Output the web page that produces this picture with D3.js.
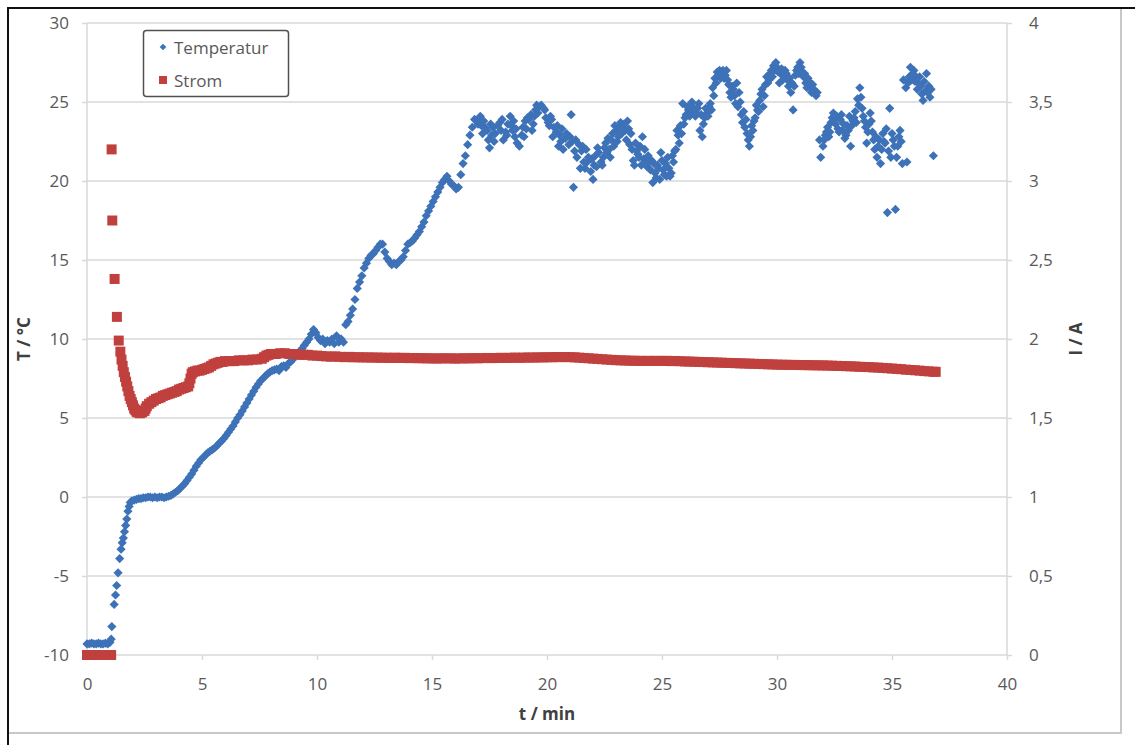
<!DOCTYPE html>
<html>
<head>
<meta charset="utf-8">
<script src="https://cdn.jsdelivr.net/npm/d3@7"></script>
<style>
  html, body { margin: 0; padding: 0; background: #fff; }
  svg { display: block; }
  text { font-family: "Open Sans", "Liberation Sans", sans-serif; }
</style>
</head>
<body>
<svg id="chart" width="1135" height="745"></svg>
<script>
// Tick values for the three axes
const timeTicks = [0, 5, 10, 15, 20, 25, 30, 35, 40];
const tempTicks = [-10, -5, 0, 5, 10, 15, 20, 25, 30];
const currentTicks = [0, 0.5, 1, 1.5, 2, 2.5, 3, 3.5, 4];

const seriesNames = ["Temperatur", "Strom"];

// Temperature readings: [t / min, T / °C]
const temperatureReadings = [
  [0.0,-9.3],[0.1,-9.3],[0.2,-9.25],[0.3,-9.3],[0.4,-9.3],[0.5,-9.25],[0.6,-9.3],[0.7,-9.3],[0.8,-9.25],[0.9,-9.3],[1.0,-9.2],[1.05,-9.0],
  [1.08,-8.2],[1.18,-6.8],[1.24,-6.2],[1.29,-5.6],[1.35,-4.8],[1.42,-3.9],[1.48,-3.3],[1.53,-2.9],[1.58,-2.6],[1.63,-2.2],[1.68,-1.8],[1.73,-1.4],[1.78,-0.9],[1.83,-0.6],[1.88,-0.35],
  [1.95,-0.25],[2.05,-0.2],[2.15,-0.15],[2.25,-0.1],[2.35,-0.1],[2.45,-0.05],[2.55,-0.05],[2.65,0.0],[2.75,0.0],[2.85,-0.05],[2.95,0.0],[3.05,-0.05],[3.15,0.0],[3.25,0.0],[3.35,-0.05],[3.45,0.0],[3.55,0.05],[3.65,0.1],[3.75,0.2],[3.85,0.3],[3.95,0.4],
  [4.05,0.55],[4.15,0.7],[4.25,0.85],[4.35,1.05],[4.45,1.25],[4.55,1.45],[4.65,1.7],[4.75,1.95],[4.85,2.15],[4.95,2.35],[5.05,2.5],[5.15,2.65],[5.25,2.8],[5.35,2.9],[5.45,3.0],[5.55,3.1],[5.65,3.25],[5.75,3.4],[5.85,3.55],[5.95,3.7],
  [6.05,3.9],[6.15,4.1],[6.25,4.3],[6.35,4.5],[6.45,4.75],[6.55,5.0],[6.65,5.2],[6.75,5.45],[6.85,5.7],[6.95,5.95],[7.05,6.2],[7.15,6.45],[7.25,6.7],[7.35,6.95],[7.45,7.15],[7.55,7.35],[7.65,7.5],[7.75,7.65],[7.85,7.8],[7.95,7.9],
  [8.05,8.0],[8.15,8.05],[8.25,8.1],[8.35,8.0],[8.45,8.25],[8.55,8.3],[8.65,8.2],[8.75,8.45],[8.85,8.55],[8.95,8.7],[9.05,8.9],[9.15,9.05],[9.25,9.2],[9.35,9.4],[9.45,9.6],[9.55,9.8],[9.65,10.0],[9.75,10.3],[9.85,10.6],[9.95,10.4],
  [10.05,10.1],[10.15,9.9],[10.25,10.0],[10.35,9.7],[10.45,9.9],[10.55,9.8],[10.65,10.0],[10.75,9.7],[10.85,10.2],[10.95,9.8],[11.05,10.0],[11.15,9.8],[11.25,10.9],[11.35,11.1],[11.45,11.5],[11.55,11.9],[11.65,12.5],[11.75,13.2],[11.85,13.6],[11.95,14.0],
  [12.05,14.5],[12.15,14.8],[12.25,15.1],[12.35,15.3],[12.45,15.4],[12.55,15.6],[12.65,15.8],[12.75,16.0],[12.85,16.0],[12.95,15.5],[13.05,15.1],[13.15,14.9],[13.25,14.7],[13.35,14.8],[13.45,14.7],[13.55,14.9],[13.65,15.0],[13.75,15.2],[13.85,15.6],[13.95,16.0],
  [14.05,16.1],[14.15,16.2],[14.25,16.4],[14.35,16.6],[14.45,16.8],[14.55,17.1],[14.65,17.4],[14.75,17.8],[14.85,18.1],[14.95,18.4],[15.05,18.7],[15.15,19.0],[15.25,19.3],[15.35,19.6],[15.45,19.9],[15.55,20.1],[15.65,20.3],[15.75,20.0],[15.85,19.8],[15.95,19.7],
  [16.05,19.5],[16.15,19.6],[16.25,20.4],[16.35,21.1],[16.45,21.6],[16.55,22.3],[16.65,22.9],[16.75,23.4],[16.85,23.9],
  [17.0,23.6],[17.05,23.9],[17.1,24.1],[17.15,23.5],[17.2,23.0],[17.25,23.8],[17.3,23.4],[17.4,23.2],[17.45,22.6],[17.5,22.1],[17.55,23.6],[17.6,22.9],[17.65,23.4],[17.7,22.5],[17.75,23.0],[17.85,23.5],[17.95,23.7],
  [18.0,23.2],[18.05,23.9],[18.1,22.6],[18.2,23.1],[18.25,22.9],[18.3,23.6],[18.4,24.1],[18.45,23.5],[18.5,23.2],[18.55,23.8],[18.6,22.8],[18.65,23.3],[18.7,22.4],[18.8,22.2],[18.9,22.9],[18.95,23.4],
  [19.0,22.8],[19.05,23.8],[19.1,23.3],[19.15,24.0],[19.2,23.9],[19.3,24.2],[19.35,23.2],[19.4,23.6],[19.45,24.1],[19.5,24.5],[19.55,24.8],[19.6,24.3],[19.65,24.7],[19.75,24.8],[19.85,24.6],[19.9,24.5],[19.95,24.0],
  [20.05,23.7],[20.1,23.5],[20.15,24.1],[20.2,23.9],[20.25,22.8],[20.3,23.4],[20.4,23.1],[20.45,23.5],[20.5,22.2],[20.55,22.9],[20.6,22.5],[20.65,23.3],[20.7,22.0],[20.8,22.7],[20.85,23.0],[20.95,22.3],
  [21.0,22.8],[21.05,24.2],[21.1,22.5],[21.15,19.6],[21.2,21.9],[21.25,22.6],[21.3,21.5],[21.4,22.3],[21.45,20.8],[21.5,21.9],[21.55,22.2],[21.6,21.2],[21.65,20.8],[21.7,22.0],[21.75,21.2],[21.8,21.5],[21.9,20.6],[21.95,21.4],
  [22.0,20.1],[22.05,21.0],[22.1,21.6],[22.15,20.9],[22.2,22.1],[22.25,21.8],[22.35,21.2],[22.4,21.0],[22.45,21.5],[22.5,22.1],[22.55,22.4],[22.6,21.8],[22.65,22.7],[22.7,22.0],[22.75,21.5],[22.8,22.6],[22.85,23.0],[22.9,22.2],[22.95,23.5],
  [23.0,23.2],[23.05,22.5],[23.1,22.8],[23.15,23.4],[23.2,23.7],[23.25,23.0],[23.3,23.5],[23.35,23.6],[23.4,23.2],[23.45,22.6],[23.5,23.8],[23.55,23.3],[23.6,22.3],[23.65,23.0],[23.7,22.0],[23.75,21.3],[23.8,21.0],[23.85,22.4],[23.9,21.9],[23.95,21.7],
  [24.0,21.5],[24.05,22.2],[24.1,21.0],[24.15,22.8],[24.2,21.4],[24.25,22.0],[24.3,21.1],[24.35,20.9],[24.4,21.6],[24.45,21.2],[24.5,20.7],[24.55,21.3],[24.6,19.9],[24.65,21.1],[24.7,20.5],[24.75,20.2],[24.8,21.0],[24.85,20.8],[24.9,20.1],[24.95,21.8],
  [25.0,21.3],[25.05,20.7],[25.1,20.4],[25.15,21.1],[25.2,20.3],[25.25,21.5],[25.3,20.8],[25.35,20.3],[25.4,20.5],[25.45,21.6],[25.5,21.2],[25.55,21.9],[25.6,22.0],[25.65,23.2],[25.7,22.9],[25.75,22.4],[25.8,23.5],[25.85,23.0],[25.9,24.9],[25.95,23.6],
  [26.0,24.0],[26.05,24.2],[26.1,24.7],[26.15,24.5],[26.2,24.1],[26.25,24.8],[26.3,25.0],[26.35,24.3],[26.4,24.6],[26.45,24.1],[26.5,24.3],[26.55,24.6],[26.6,24.9],[26.65,23.2],[26.7,24.2],[26.75,22.8],[26.8,23.6],[26.85,24.0],[26.9,24.6],[26.95,24.3],
  [27.0,24.1],[27.05,24.7],[27.1,24.9],[27.15,24.5],[27.2,25.9],[27.25,25.4],[27.3,26.5],[27.35,26.2],[27.4,26.9],[27.45,26.7],[27.5,27.0],[27.55,26.5],[27.6,26.8],[27.65,27.0],[27.7,26.5],[27.75,26.7],[27.8,27.0],[27.85,26.4],[27.9,26.1],[27.95,25.6],
  [28.0,25.3],[28.05,26.0],[28.1,25.8],[28.15,25.4],[28.2,24.9],[28.25,26.2],[28.3,24.7],[28.35,25.6],[28.4,25.0],[28.45,24.2],[28.5,23.7],[28.55,24.4],[28.6,23.4],[28.65,23.9],[28.7,23.0],[28.75,22.6],[28.8,22.2],[28.85,22.8],[28.9,23.5],[28.95,23.2],
  [29.0,23.8],[29.05,24.0],[29.1,24.8],[29.15,24.5],[29.2,24.4],[29.25,25.1],[29.3,25.5],[29.35,25.8],[29.4,24.7],[29.45,25.4],[29.5,26.1],[29.55,26.6],[29.6,26.2],[29.65,26.4],[29.7,26.8],[29.75,27.0],[29.8,26.6],[29.85,27.3],[29.9,27.0],[29.95,27.5],
  [30.0,27.2],[30.05,26.9],[30.1,26.2],[30.15,26.8],[30.2,27.1],[30.25,26.4],[30.3,26.6],[30.35,27.0],[30.4,26.8],[30.45,26.4],[30.5,26.0],[30.55,26.5],[30.6,25.6],[30.65,26.2],[30.7,24.5],[30.75,26.0],[30.8,26.7],[30.85,27.0],[30.9,27.2],[30.95,26.8],
  [31.0,27.5],[31.05,27.2],[31.1,26.9],[31.15,26.6],[31.2,26.8],[31.25,26.2],[31.3,25.9],[31.35,26.5],[31.4,26.3],[31.45,25.9],[31.5,25.6],[31.55,26.1],[31.6,25.8],[31.65,25.7],[31.7,25.4],[31.75,25.6],[31.85,22.6],[31.9,21.5],
  [32.0,22.2],[32.05,22.6],[32.1,22.9],[32.15,23.1],[32.2,23.4],[32.25,22.8],[32.3,23.1],[32.35,23.7],[32.4,24.0],[32.45,24.3],[32.5,23.9],[32.55,23.6],[32.6,24.1],[32.65,23.3],[32.7,23.1],[32.75,23.9],[32.8,24.2],[32.85,23.2],[32.9,23.6],[32.95,22.7],
  [33.0,22.9],[33.05,23.5],[33.1,23.2],[33.15,24.1],[33.2,22.2],[33.25,23.5],[33.3,23.8],[33.35,24.0],[33.4,24.4],[33.45,23.7],[33.5,25.2],[33.55,24.8],[33.6,25.9],[33.65,25.3],[33.7,24.6],[33.75,24.1],[33.8,23.8],[33.85,23.4],[33.9,22.4],[33.95,23.1],
  [34.0,23.6],[34.05,24.3],[34.1,23.8],[34.15,23.1],[34.2,22.6],[34.25,22.0],[34.3,22.8],[34.35,21.5],[34.4,22.2],[34.45,22.6],[34.5,21.1],[34.55,22.0],[34.6,23.0],[34.65,22.5],[34.7,22.4],[34.75,23.3],[34.8,18.0],[34.85,21.9],[34.9,24.6],[34.95,21.5],
  [35.0,23.0],[35.05,22.6],[35.1,22.2],[35.15,18.2],[35.2,21.5],[35.25,22.2],[35.3,22.8],[35.35,23.2],[35.4,22.5],[35.45,21.1],[35.5,26.4],[35.6,25.9],[35.65,21.2],[35.7,26.2],[35.75,26.6],[35.8,27.2],[35.85,26.4],[35.9,26.8],[35.95,27.0],
  [36.0,26.3],[36.05,26.6],[36.1,25.8],[36.15,26.2],[36.2,26.6],[36.25,26.0],[36.3,25.5],[36.35,25.1],[36.4,26.3],[36.45,25.7],[36.5,26.8],[36.55,25.6],[36.6,26.0],[36.65,25.3],[36.7,25.8],[36.8,21.6]
];

// Current readings: [t / min, I / A]
const currentReadings = [
  [0.0,0],[0.1,0],[0.2,0],[0.3,0],[0.4,0],[0.5,0],[0.6,0],[0.7,0],[0.8,0],[0.9,0],[1.0,0],[1.05,0],
  [1.07,3.2],[1.1,2.75],[1.2,2.38],[1.3,2.14],[1.38,1.99],[1.45,1.92],[1.5,1.87],[1.55,1.83],[1.6,1.79],[1.65,1.76],[1.7,1.73],[1.75,1.70],[1.8,1.67],[1.85,1.64],[1.9,1.62],[1.95,1.60],
  [2.0,1.58],[2.05,1.56],[2.1,1.55],[2.15,1.54],[2.2,1.535],[2.3,1.53],[2.4,1.535],[2.5,1.545],[2.55,1.56],[2.6,1.575],[2.7,1.59],[2.8,1.60],[2.9,1.61],
  [3.0,1.62],[3.1,1.625],[3.2,1.63],[3.3,1.64],[3.4,1.645],[3.5,1.65],[3.6,1.655],[3.7,1.66],[3.8,1.665],[3.9,1.67],
  [4.0,1.68],[4.1,1.685],[4.2,1.69],[4.3,1.695],[4.4,1.70],[4.45,1.72],[4.5,1.75],[4.55,1.78],[4.6,1.79],[4.7,1.795],[4.8,1.80],[4.9,1.80],
  [5.0,1.805],[5.1,1.81],[5.2,1.815],[5.3,1.82],[5.4,1.83],[5.5,1.84],[5.6,1.845],[5.7,1.85],[5.8,1.855],[5.9,1.855],
  [6.0,1.86],[6.2,1.86],[6.4,1.86],[6.6,1.865],[6.8,1.865],[7.0,1.865],[7.2,1.87],[7.4,1.87],[7.6,1.875],[7.7,1.885],[7.8,1.895],[7.9,1.90],
  [8.0,1.905],[8.2,1.905],[8.4,1.91],[8.6,1.91],[8.8,1.905],[9.0,1.905],[9.2,1.90],[9.4,1.90],[9.6,1.90],[9.8,1.895],[10.0,1.895],
  [10.2,1.892],[10.4,1.89],[10.6,1.888],[10.8,1.89],[11.0,1.887],[11.2,1.885],[11.4,1.887],[11.6,1.884],[11.8,1.885],
  [12.0,1.883],[12.2,1.884],[12.4,1.882],[12.6,1.883],[12.8,1.881],[13.0,1.882],[13.2,1.88],[13.4,1.882],[13.6,1.88],[13.8,1.881],
  [14.0,1.879],[14.2,1.88],[14.4,1.878],[14.6,1.879],[14.8,1.877],[15.0,1.878],[15.2,1.876],[15.4,1.878],[15.6,1.877],[15.8,1.878],
  [16.0,1.876],[16.2,1.877],[16.4,1.878],[16.6,1.877],[16.8,1.879],[17.0,1.878],[17.2,1.879],[17.4,1.88],[17.6,1.879],[17.8,1.88],
  [18.0,1.881],[18.2,1.88],[18.4,1.881],[18.6,1.882],[18.8,1.881],[19.0,1.882],[19.2,1.883],[19.4,1.882],[19.6,1.884],[19.8,1.883],
  [20.0,1.885],[20.2,1.884],[20.4,1.886],[20.6,1.885],[20.8,1.886],[21.0,1.885],[21.2,1.884],[21.4,1.882],[21.6,1.88],[21.8,1.878],
  [22.0,1.876],[22.2,1.874],[22.4,1.872],[22.6,1.87],[22.8,1.868],[23.0,1.866],[23.2,1.865],[23.4,1.864],[23.6,1.863],[23.8,1.862],
  [24.0,1.862],[24.2,1.861],[24.4,1.862],[24.6,1.861],[24.8,1.862],[25.0,1.861],[25.2,1.862],[25.4,1.86],[25.6,1.861],[25.8,1.859],
  [26.0,1.858],[26.2,1.857],[26.4,1.856],[26.6,1.855],[26.8,1.854],[27.0,1.853],[27.2,1.852],[27.4,1.851],[27.6,1.85],[27.8,1.849],
  [28.0,1.848],[28.2,1.847],[28.4,1.846],[28.6,1.845],[28.8,1.844],[29.0,1.843],[29.2,1.842],[29.4,1.841],[29.6,1.84],[29.8,1.839],
  [30.0,1.838],[30.2,1.837],[30.4,1.837],[30.6,1.836],[30.8,1.836],[31.0,1.835],[31.2,1.835],[31.4,1.834],[31.6,1.834],[31.8,1.833],
  [32.0,1.833],[32.2,1.832],[32.4,1.831],[32.6,1.83],[32.8,1.829],[33.0,1.828],[33.2,1.827],[33.4,1.826],[33.6,1.824],[33.8,1.823],
  [34.0,1.822],[34.2,1.82],[34.4,1.819],[34.6,1.817],[34.8,1.815],[35.0,1.813],[35.2,1.811],[35.4,1.809],[35.6,1.806],[35.8,1.804],
  [36.0,1.802],[36.2,1.8],[36.4,1.797],[36.6,1.795],[36.8,1.793],[36.9,1.792]
];

const COLORS = { temp: "#3d72b8", current: "#c0403e", grid: "#d9d9d9", tick: "#595959", title: "#404040" };
const plot = { left: 87, right: 1007, top: 23, bottom: 655 };

const svg = d3.select("#chart");

// Page frame
svg.append("rect").attr("width", 1135).attr("height", 745).attr("fill", "#fff");
svg.append("line").attr("x1", 7).attr("x2", 1135).attr("y1", 8).attr("y2", 8).attr("stroke", "#111").attr("stroke-width", 2);
svg.append("line").attr("x1", 8).attr("x2", 8).attr("y1", 7).attr("y2", 745).attr("stroke", "#111").attr("stroke-width", 2);
svg.append("line").attr("x1", 1121).attr("x2", 1121).attr("y1", 9).attr("y2", 734).attr("stroke", "#c8c8c8").attr("stroke-width", 2);
svg.append("line").attr("x1", 9).attr("x2", 1121).attr("y1", 733).attr("y2", 733).attr("stroke", "#c8c8c8").attr("stroke-width", 2);

// Scales
const x = d3.scaleLinear().domain([0, 40]).range([plot.left, plot.right]);
const yT = d3.scaleLinear().domain([-10, 30]).range([plot.bottom, plot.top]);
const yI = d3.scaleLinear().domain([0, 4]).range([plot.bottom, plot.top]);

// Horizontal gridlines
svg.append("g").selectAll("line").data(tempTicks.filter(d => d > -10)).join("line")
  .attr("x1", plot.left).attr("x2", plot.right)
  .attr("y1", d => yT(d)).attr("y2", d => yT(d))
  .attr("stroke", COLORS.grid).attr("stroke-width", 1.5);

// Axes
function styleAxis(g) {
  g.select(".domain").remove();
  g.selectAll(".tick line").attr("stroke", COLORS.grid).attr("stroke-width", 1.5);
  g.selectAll(".tick text").attr("fill", COLORS.tick).attr("font-size", 17)
    .attr("font-family", "'Open Sans', sans-serif");
}

svg.append("g").attr("transform", `translate(0,${plot.bottom})`)
  .call(d3.axisBottom(x).tickValues(timeTicks).tickSize(5).tickPadding(18).tickFormat(d => String(d)))
  .call(styleAxis);

svg.append("g").attr("transform", `translate(${plot.left},0)`)
  .call(d3.axisLeft(yT).tickValues(tempTicks).tickSize(5).tickPadding(13).tickFormat(d => String(d)))
  .call(styleAxis);

svg.append("g").attr("transform", `translate(${plot.right},0)`)
  .call(d3.axisRight(yI).tickValues(currentTicks).tickSize(5).tickPadding(17)
    .tickFormat(d => String(d).replace(".", ",")))
  .call(styleAxis);

// Axis lines
const axisLines = svg.append("g").attr("stroke", COLORS.grid).attr("stroke-width", 1.5);
axisLines.append("line").attr("x1", plot.left).attr("x2", plot.left).attr("y1", plot.top).attr("y2", plot.bottom);
axisLines.append("line").attr("x1", plot.right).attr("x2", plot.right).attr("y1", plot.top).attr("y2", plot.bottom);
axisLines.append("line").attr("x1", plot.left).attr("x2", plot.right).attr("y1", plot.bottom).attr("y2", plot.bottom);

// Axis titles
svg.append("text").attr("x", (plot.left + plot.right) / 2).attr("y", 713)
  .attr("text-anchor", "middle").attr("dominant-baseline", "central")
  .attr("font-size", 17).attr("font-weight", "bold").attr("fill", COLORS.title).text("t / min");
svg.append("text").attr("transform", `translate(23,${(plot.top + plot.bottom) / 2}) rotate(-90)`)
  .attr("text-anchor", "middle").attr("dominant-baseline", "central")
  .attr("font-size", 17).attr("font-weight", "bold").attr("fill", COLORS.title).text("T / °C");
svg.append("text").attr("transform", `translate(1075,${(plot.top + plot.bottom) / 2}) rotate(-90)`)
  .attr("text-anchor", "middle").attr("dominant-baseline", "central")
  .attr("font-size", 17).attr("font-weight", "bold").attr("fill", COLORS.title).text("I / A");

// Markers: diamonds for temperature, squares for current
const diamond = d3.symbol(d3.symbolSquare, 42)();
const square = d3.symbol(d3.symbolSquare, 100)();

svg.append("g").selectAll("path").data(temperatureReadings).join("path")
  .attr("d", diamond)
  .attr("transform", d => `translate(${x(d[0])},${yT(d[1])}) rotate(45)`)
  .attr("fill", COLORS.temp);

svg.append("g").selectAll("path").data(currentReadings).join("path")
  .attr("d", square)
  .attr("transform", d => `translate(${x(d[0])},${yI(d[1])})`)
  .attr("fill", COLORS.current);

// Legend
const legend = svg.append("g");
legend.append("rect").attr("x", 143.5).attr("y", 30.5).attr("width", 145).attr("height", 66).attr("rx", 3)
  .attr("fill", "#fff").attr("stroke", "#505050").attr("stroke-width", 1.5);
const legendRows = [
  { name: seriesNames[0], y: 47, shape: d3.symbol(d3.symbolSquare, 22)(), rot: 45, color: COLORS.temp },
  { name: seriesNames[1], y: 80, shape: d3.symbol(d3.symbolSquare, 64)(), rot: 0, color: COLORS.current }
];
legendRows.forEach(r => {
  legend.append("path").attr("d", r.shape)
    .attr("transform", `translate(163,${r.y}) rotate(${r.rot})`).attr("fill", r.color);
  legend.append("text").attr("x", 174).attr("y", r.y).attr("dominant-baseline", "central")
    .attr("font-size", 17).attr("fill", COLORS.tick).text(r.name);
});
</script>
</body>
</html>
